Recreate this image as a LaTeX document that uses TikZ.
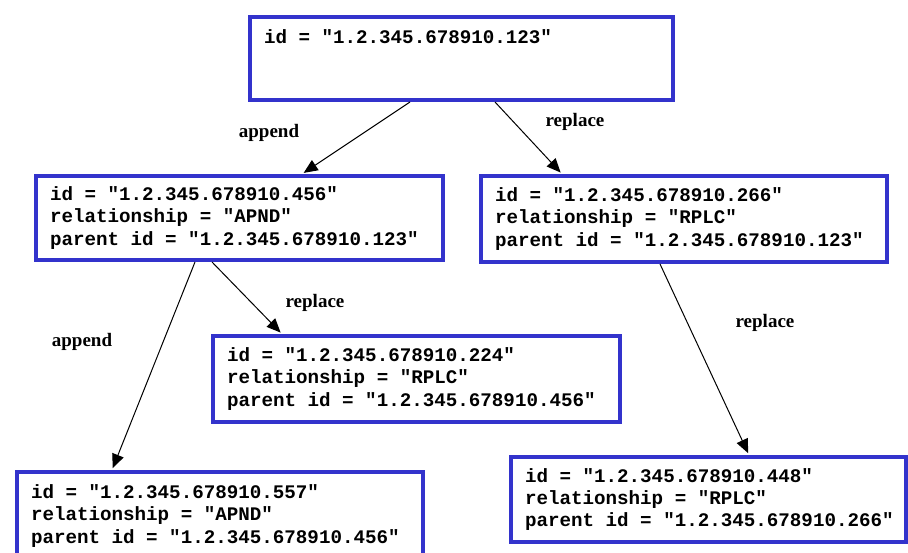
\documentclass[tikz,border=0pt]{standalone}
\usepackage{fontspec}
\setmainfont{Liberation Serif}
\setmonofont{Liberation Mono}
\usetikzlibrary{arrows.meta}
\definecolor{boxblue}{RGB}{51,51,204}
\newcommand\gap{\kern0.6em\relax}

\begin{document}
\begin{tikzpicture}[
    x=0.5pt, y=-0.5pt,
    docbox/.style={draw=boxblue, line width=2pt, anchor=north west, inner xsep=7pt, inner ysep=0pt,
        align=left, font=\fontsize{9.6}{11.1}\selectfont\ttfamily\bfseries},
    link/.style={-{Triangle[length=7pt, width=6pt]}, line width=0.5pt, shorten >=1pt},
    rel/.style={font=\fontsize{9.5}{11}\selectfont\bfseries}
]
    \useasboundingbox (0,0) rectangle (908,552);

    % 文档节点
    \node[docbox, text width=197.5pt, minimum height=41.5pt] (doc123) at (248,15)
        {id\gap=\gap"1.2.345.678910.123"\\ \mbox{}\\ \mbox{}};
    \node[docbox, text width=189.5pt, minimum height=42pt] (doc456) at (34,174)
        {id\gap=\gap"1.2.345.678910.456"\\ relationship\gap=\gap"APND"\\ parent\gap id\gap=\gap"1.2.345.678910.123"};
    \node[docbox, text width=189pt, minimum height=43pt] (doc266) at (479,174)
        {id\gap=\gap"1.2.345.678910.266"\\ relationship\gap=\gap"RPLC"\\ parent\gap id\gap=\gap"1.2.345.678910.123"};
    \node[docbox, text width=189.5pt, minimum height=43pt] (doc224) at (211,334)
        {id\gap=\gap"1.2.345.678910.224"\\ relationship\gap=\gap"RPLC"\\ parent\gap id\gap=\gap"1.2.345.678910.456"};
    \node[docbox, text width=189pt, minimum height=44pt] (doc557) at (15,470)
        {id\gap=\gap"1.2.345.678910.557"\\ relationship\gap=\gap"APND"\\ parent\gap id\gap=\gap"1.2.345.678910.456"};
    \node[docbox, text width=183.5pt, minimum height=42.5pt] (doc448) at (509,455)
        {id\gap=\gap"1.2.345.678910.448"\\ relationship\gap=\gap"RPLC"\\ parent\gap id\gap=\gap"1.2.345.678910.266"};

    % 箭头
    \draw[link] ([xshift=-25.75pt]doc123.south) -- ([xshift=31.25pt]doc456.north);
    \draw[link] ([xshift=16.75pt]doc123.south) -- ([xshift=-61pt]doc266.north);
    \draw[link] ([xshift=-22.25pt]doc456.south) -- ([xshift=-54pt]doc557.north);
    \draw[link] ([xshift=-13.75pt]doc456.south) -- ([xshift=-67.25pt]doc224.north);
    \draw[link] ([xshift=-12pt]doc266.south) -- ([xshift=20.25pt]doc448.north);

    % 标注
    \node[rel] (lblA1) at (269,133) {append};
    \node[rel] (lblR1) at (575,122) {replace};
    \node[rel] (lblA2) at (82,342) {append};
    \node[rel] (lblR2) at (315,303) {replace};
    \node[rel] (lblR3) at (765,323) {replace};
\end{tikzpicture}
\end{document}
